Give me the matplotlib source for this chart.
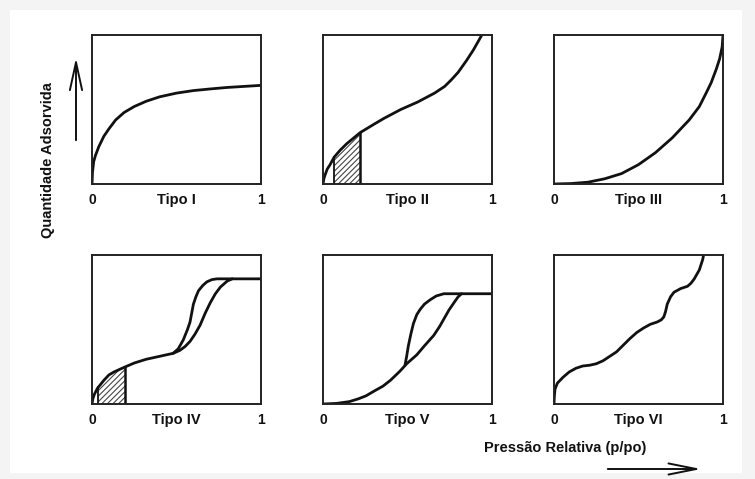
import numpy as np
import matplotlib
matplotlib.use("Agg")
import matplotlib.pyplot as plt
from matplotlib.patches import FancyArrowPatch, Rectangle

plt.rcParams['font.family'] = ['Liberation Sans', 'DejaVu Sans']
plt.rcParams['hatch.linewidth'] = 0.8

# ---- data (relative pressure x, adsorbed amount y, both 0..1) ----
tipo1_x = [0, 0.003, 0.01, 0.02, 0.04, 0.07, 0.10, 0.14, 0.19, 0.25, 0.32, 0.40, 0.50, 0.60, 0.70, 0.80, 0.90, 1.0]
tipo1_y = [0, 0.08, 0.15, 0.19, 0.25, 0.32, 0.37, 0.43, 0.48, 0.52, 0.555, 0.585, 0.61, 0.627, 0.638, 0.648, 0.655, 0.662]

tipo2_x = [0, 0.005, 0.012, 0.025, 0.042, 0.066, 0.10, 0.14, 0.22, 0.30, 0.36, 0.46, 0.56, 0.66, 0.72, 0.76, 0.80, 0.85, 0.89, 0.92, 0.94]
tipo2_y = [0, 0.035, 0.06, 0.10, 0.13, 0.18, 0.225, 0.27, 0.345, 0.40, 0.44, 0.50, 0.55, 0.61, 0.655, 0.70, 0.75, 0.83, 0.90, 0.96, 1.0]
tipo2_hatch = [0.066, 0.22]

tipo3_x = [0, 0.1, 0.2, 0.3, 0.4, 0.5, 0.6, 0.7, 0.8, 0.86, 0.9, 0.93, 0.96, 0.98, 0.995, 1.0]
tipo3_y = [0, 0.003, 0.012, 0.035, 0.07, 0.13, 0.21, 0.31, 0.43, 0.52, 0.61, 0.68, 0.77, 0.84, 0.92, 1.0]

tipo4_ads_x = [0, 0.005, 0.014, 0.032, 0.071, 0.10, 0.13, 0.19, 0.25, 0.32, 0.40, 0.48, 0.52, 0.55, 0.58, 0.61, 0.64, 0.67, 0.70, 0.73, 0.76, 0.80, 0.83, 1.0]
tipo4_ads_y = [0, 0.035, 0.065, 0.105, 0.16, 0.195, 0.215, 0.246, 0.275, 0.30, 0.32, 0.34, 0.36, 0.385, 0.42, 0.47, 0.53, 0.61, 0.68, 0.74, 0.785, 0.825, 0.84, 0.84]
tipo4_des_x = [0.48, 0.51, 0.54, 0.565, 0.58, 0.59, 0.60, 0.615, 0.63, 0.655, 0.68, 0.71, 0.74, 0.78, 0.83]
tipo4_des_y = [0.34, 0.37, 0.43, 0.50, 0.55, 0.61, 0.67, 0.72, 0.76, 0.795, 0.82, 0.835, 0.84, 0.84, 0.84]
tipo4_hatch = [0.037, 0.195]

tipo5_ads_x = [0, 0.08, 0.156, 0.21, 0.255, 0.30, 0.355, 0.40, 0.455, 0.495, 0.555, 0.60, 0.655, 0.69, 0.715, 0.745, 0.775, 0.80, 0.82, 1.0]
tipo5_ads_y = [0, 0.004, 0.016, 0.035, 0.055, 0.085, 0.12, 0.16, 0.22, 0.27, 0.33, 0.39, 0.46, 0.52, 0.57, 0.63, 0.68, 0.72, 0.74, 0.74]
tipo5_des_x = [0.485, 0.495, 0.505, 0.52, 0.535, 0.555, 0.575, 0.60, 0.635, 0.67, 0.715, 0.82]
tipo5_des_y = [0.26, 0.32, 0.39, 0.47, 0.54, 0.60, 0.635, 0.67, 0.70, 0.725, 0.74, 0.74]

tipo6_x = [0, 0.002, 0.006, 0.02, 0.054, 0.09, 0.13, 0.17, 0.21, 0.25, 0.29, 0.33, 0.37, 0.41, 0.45, 0.49, 0.53, 0.57, 0.61, 0.635, 0.65, 0.66, 0.67, 0.69, 0.71, 0.75, 0.79, 0.81, 0.83, 0.845, 0.86, 0.87, 0.88, 0.885]
tipo6_y = [0, 0.05, 0.10, 0.14, 0.18, 0.215, 0.24, 0.255, 0.26, 0.27, 0.29, 0.32, 0.35, 0.395, 0.44, 0.48, 0.51, 0.535, 0.55, 0.565, 0.585, 0.62, 0.67, 0.72, 0.75, 0.775, 0.79, 0.81, 0.84, 0.87, 0.90, 0.935, 0.97, 1.0]

titles = ["Tipo I", "Tipo II", "Tipo III", "Tipo IV", "Tipo V", "Tipo VI"]
tick_labels = ["0", "1"]
ylabel = "Quantidade Adsorvida"
xlabel = "Pressão Relativa (p/po)"

W, H = 755, 479
fig = plt.figure(figsize=(W / 100, H / 100), dpi=100)
fig.patch.set_facecolor('#f4f4f4')
fig.add_artist(Rectangle((10 / W, 1 - 473 / H), 732 / W, 463 / H,
                         transform=fig.transFigure, facecolor='white',
                         edgecolor='none', zorder=0))

lefts = [92, 323, 554]
tops = [35, 255]
pw, ph = 169, 149

curves = [
    [(tipo1_x, tipo1_y)],
    [(tipo2_x, tipo2_y)],
    [(tipo3_x, tipo3_y)],
    [(tipo4_ads_x, tipo4_ads_y), (tipo4_des_x, tipo4_des_y)],
    [(tipo5_ads_x, tipo5_ads_y), (tipo5_des_x, tipo5_des_y)],
    [(tipo6_x, tipo6_y)],
]
hatches = {1: (tipo2_x, tipo2_y, tipo2_hatch), 3: (tipo4_ads_x, tipo4_ads_y, tipo4_hatch)}

col = '#111111'
for i in range(6):
    r, c = divmod(i, 3)
    l, t = lefts[c], tops[r]
    ax = fig.add_axes([l / W, 1 - (t + ph) / H, pw / W, ph / H])
    ax.set_xlim(0, 1)
    ax.set_ylim(0, 1)
    ax.set_xticks([])
    ax.set_yticks([])
    for s in ax.spines.values():
        s.set_linewidth(1.4)
        s.set_color('#222222')
    if i in hatches:
        xs, ys, (a, b) = hatches[i]
        xx = np.linspace(a, b, 60)
        yy = np.interp(xx, xs, ys)
        ax.fill_between(xx, 0, yy, facecolor='white', edgecolor='#444444',
                        hatch='//////', linewidth=0)
        ax.plot([a, a], [0, np.interp(a, xs, ys)], color=col, lw=1.3)
        ax.plot([b, b], [0, np.interp(b, xs, ys)], color=col, lw=1.8)
    for xs, ys in curves[i]:
        ax.plot(xs, ys, color=col, lw=2.0, solid_capstyle='round',
                solid_joinstyle='round', clip_on=True)
    yoff = -0.105
    ax.text(0, yoff, tick_labels[0], transform=ax.transAxes, ha='center',
            va='center', fontsize=10, fontweight='bold', color=col)
    ax.text(1, yoff, tick_labels[1], transform=ax.transAxes, ha='center',
            va='center', fontsize=10, fontweight='bold', color=col)
    ax.text(0.5, yoff, titles[i], transform=ax.transAxes, ha='center',
            va='center', fontsize=10.5, fontweight='bold', color=col)

fig.text(48 / W, 1 - 160 / H, ylabel, rotation=90, ha='center', va='center',
         fontsize=10.5, fontweight='bold', color=col)
fig.text(565 / W, 1 - 448 / H, xlabel, ha='center', va='center',
         fontsize=10.5, fontweight='bold', color=col)

fig.add_artist(FancyArrowPatch((76 / W, 1 - 143 / H), (76 / W, 1 - 55 / H),
                               transform=fig.transFigure,
                               arrowstyle='->,head_length=1.0,head_width=0.22',
                               mutation_scale=20, lw=1.4, color=col))
fig.add_artist(FancyArrowPatch((605 / W, 1 - 469 / H), (704 / W, 1 - 469 / H),
                               transform=fig.transFigure,
                               arrowstyle='->,head_length=1.0,head_width=0.2',
                               mutation_scale=20, lw=1.4, color=col))

fig.savefig("out.png", dpi=100, facecolor=fig.get_facecolor())
